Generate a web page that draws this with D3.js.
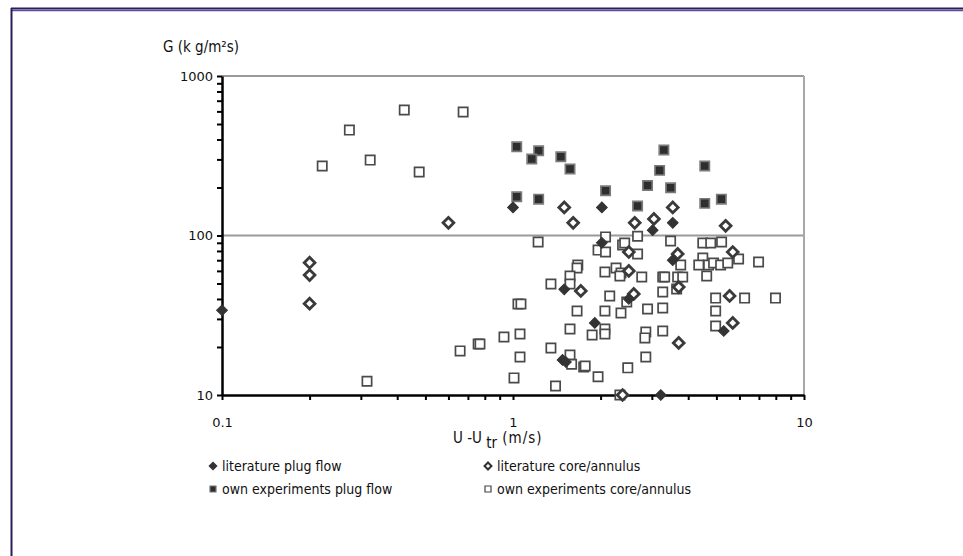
<!DOCTYPE html>
<html>
<head>
<meta charset="utf-8">
<script src="https://cdn.jsdelivr.net/npm/d3@7"></script>
<style>
  body { margin: 0; background: #fff; }
  svg { display: block; }
</style>
</head>
<body>
<div id="chart"></div>
<script>
// values: [U-Utr (m/s), G (kg/m2s)]
const litPlug = [
  [0.1, 34], [1.0, 150], [2.02, 150], [2.02, 90], [3.02, 108], [3.54, 120], [3.54, 70],
  [1.5, 46], [2.5, 40], [1.91, 28.3], [5.3, 25.2], [1.48, 16.6], [1.52, 16.1], [3.22, 10]
];
const litCore = [
  [0.2, 67.5], [0.2, 56.5], [0.2, 37.4], [0.6, 120], [1.5, 150], [1.61, 120], [2.62, 120],
  [3.05, 127], [3.54, 150], [5.38, 115], [2.5, 78.8], [3.68, 76.6], [5.69, 78.8], [2.5, 60],
  [1.71, 44.9], [2.6, 43], [3.71, 47.5], [5.55, 41.8], [5.69, 28.3], [3.71, 21.2], [2.38, 10]
];
const ownPlug = [
  [1.03, 360], [1.225, 340], [1.16, 302], [1.46, 312], [1.57, 261], [3.3, 344], [3.19, 256],
  [4.56, 273], [2.9, 206], [3.48, 199], [2.08, 191], [1.03, 175], [1.225, 169], [2.68, 153],
  [4.56, 159], [5.2, 169]
];
const ownCore = [
  [0.221, 273], [0.274, 458], [0.323, 297], [0.423, 612], [0.476, 250], [0.674, 594], [0.315, 12.2],
  [1.22, 91], [2.08, 98], [2.68, 99], [3.48, 92.4], [4.49, 89.8], [4.78, 89.8], [5.21, 91],
  [1.96, 81], [2.08, 78.8], [2.38, 87.2], [2.42, 89.8], [2.68, 76.6], [3.77, 65.3], [4.49, 72.3],
  [4.35, 65.3], [4.7, 65.3], [4.89, 67.2], [5.17, 65.3], [5.47, 67.2], [5.96, 71.2], [6.98, 68.2],
  [1.67, 65.3], [1.66, 62.5], [1.57, 55.7], [1.57, 49.7], [1.35, 49.7], [2.07, 59], [2.26, 62.5],
  [2.35, 58.2], [2.33, 55.7], [2.77, 54.9], [3.27, 54.9], [3.32, 54.9], [3.68, 54.9], [3.83, 54.9],
  [4.63, 55.7], [3.27, 44.2], [3.65, 46.2], [2.15, 41.8], [2.46, 38.3], [4.97, 40.5], [4.97, 33.6],
  [6.25, 40.5], [7.98, 40.5], [1.04, 37.2], [1.065, 37.2], [1.66, 33.6], [2.07, 33.6], [2.35, 32.7],
  [2.9, 34.6], [3.27, 35.1], [4.97, 27.1], [1.57, 25.9], [2.07, 25.9], [2.07, 24.1], [1.87, 23.8],
  [2.86, 24.8], [2.84, 22.8], [3.27, 25.2], [0.931, 23.1], [1.057, 24.1], [0.759, 20.9], [0.77, 20.9],
  [0.658, 18.9], [1.35, 19.7], [1.057, 17.3], [1.57, 17.8], [1.59, 15.6], [1.75, 15], [1.77, 15.2],
  [2.86, 17.3], [1.96, 13], [2.48, 14.8], [1.008, 12.8], [1.4, 11.4], [2.33, 10]
];
const yLabels = [10, 100, 1000];
const xLabels = [0.1, 1, 10];
const legendNames = ["literature plug flow", "literature core/annulus",
                     "own experiments plug flow", "own experiments core/annulus"];

const width = 963, height = 556;
const labelFont = "'DejaVu Sans Condensed', 'Liberation Sans Narrow', sans-serif";

const svg = d3.select("#chart")
    .append("svg")
    .attr("width", width)
    .attr("height", height);

// frame
svg.append("line").attr("x1", 11).attr("x2", width).attr("y1", 8.5).attr("y2", 8.5)
    .attr("stroke", "#2b1c5c").attr("stroke-width", 2);
svg.append("line").attr("x1", 12).attr("x2", width).attr("y1", 10.5).attr("y2", 10.5)
    .attr("stroke", "#5d4c96").attr("stroke-width", 1.5);
svg.append("line").attr("x1", 11.5).attr("x2", 11.5).attr("y1", 8).attr("y2", height)
    .attr("stroke", "#2b1c5c").attr("stroke-width", 2);

const x = d3.scaleLog().domain([0.1, 10]).range([222, 804]);
const y = d3.scaleLog().domain([10, 1000]).range([395, 76]);

// gridlines at 100 and 1000, plus right border
svg.append("g")
    .selectAll("line")
    .data([100, 1000])
    .join("line")
    .attr("x1", x(0.1)).attr("x2", x(10))
    .attr("y1", d => y(d)).attr("y2", d => y(d))
    .attr("stroke", "#9a9a9a").attr("stroke-width", 2);
svg.append("line")
    .attr("x1", x(10)).attr("x2", x(10))
    .attr("y1", y(1000)).attr("y2", y(10))
    .attr("stroke", "#a8a8a8").attr("stroke-width", 2);

// axes
const yAxis = svg.append("g")
    .attr("transform", `translate(${x(0.1)},0)`)
    .call(d3.axisLeft(y)
        .tickValues(y.ticks())
        .tickSize(5)
        .tickSizeOuter(0)
        .tickPadding(4)
        .tickFormat(d => yLabels.includes(d) ? d : ""));

const xAxis = svg.append("g")
    .attr("transform", `translate(0,${y(10)})`)
    .call(d3.axisBottom(x)
        .tickValues(x.ticks())
        .tickSize(5)
        .tickSizeOuter(0)
        .tickPadding(18)
        .tickFormat(d => xLabels.includes(d) ? d : ""));

[yAxis, xAxis].forEach(a => {
    a.select(".domain").attr("stroke", "#000").attr("stroke-width", 2.5);
    a.selectAll(".tick line").attr("stroke", "#000").attr("stroke-width", 2);
    a.selectAll("text")
        .attr("fill", "#111")
        .style("font", "13px 'DejaVu Sans', sans-serif");
});

// axis titles
svg.append("text")
    .attr("x", 163).attr("y", 52)
    .style("font", `15px ${labelFont}`)
    .attr("fill", "#111")
    .text("G (k g/m²s)");

const xt = svg.append("text")
    .attr("x", 453).attr("y", 443)
    .style("font", `15px ${labelFont}`)
    .attr("fill", "#111");
xt.append("tspan").text("U -U ");
xt.append("tspan").attr("dy", 5).text("tr");
xt.append("tspan").attr("dy", -5).attr("letter-spacing", 1).text(" (m/s)");

// markers
const diamond = d3.symbol(d3.symbolSquare, 58);
const square = d3.symbol(d3.symbolSquare, 86);

function drawSquares(data, fill, stroke) {
    svg.append("g")
        .selectAll("path")
        .data(data)
        .join("path")
        .attr("transform", d => `translate(${x(d[0])},${y(d[1])})`)
        .attr("d", square)
        .attr("fill", fill)
        .attr("stroke", stroke)
        .attr("stroke-width", 1.7);
}
function drawDiamonds(data, fill, stroke, sw) {
    svg.append("g")
        .selectAll("path")
        .data(data)
        .join("path")
        .attr("transform", d => `translate(${x(d[0])},${y(d[1])}) rotate(45)`)
        .attr("d", diamond)
        .attr("fill", fill)
        .attr("stroke", stroke)
        .attr("stroke-width", sw);
}

drawSquares(ownCore, "#fff", "#4a4a4a");
drawSquares(ownPlug, "#2e2e2e", "#7a7a7a");
drawDiamonds(litCore, "#fff", "#3a3a3a", 2.8);
drawDiamonds(litPlug, "#333", "#333", 1);

// legend
const legendX = [213, 488];
const legendY = [466, 489];
const legend = svg.append("g")
    .style("font", `14px ${labelFont}`);

legendNames.forEach((name, i) => {
    const lx = legendX[i % 2], ly = legendY[Math.floor(i / 2)];
    if (i < 2) {
        legend.append("path")
            .attr("transform", `translate(${lx},${ly}) rotate(45)`)
            .attr("d", d3.symbol(d3.symbolSquare, i === 0 ? 30 : 24))
            .attr("fill", i === 0 ? "#333" : "#fff")
            .attr("stroke", "#333")
            .attr("stroke-width", i === 0 ? 1 : 2);
    } else {
        legend.append("path")
            .attr("transform", `translate(${lx},${ly})`)
            .attr("d", d3.symbol(d3.symbolSquare, 36))
            .attr("fill", i === 2 ? "#2e2e2e" : "#fff")
            .attr("stroke", i === 2 ? "#777" : "#444")
            .attr("stroke-width", 1.2);
    }
    legend.append("text")
        .attr("x", lx + 9).attr("y", ly)
        .attr("dy", "0.35em")
        .attr("fill", "#111")
        .text(name);
});
</script>
</body>
</html>
